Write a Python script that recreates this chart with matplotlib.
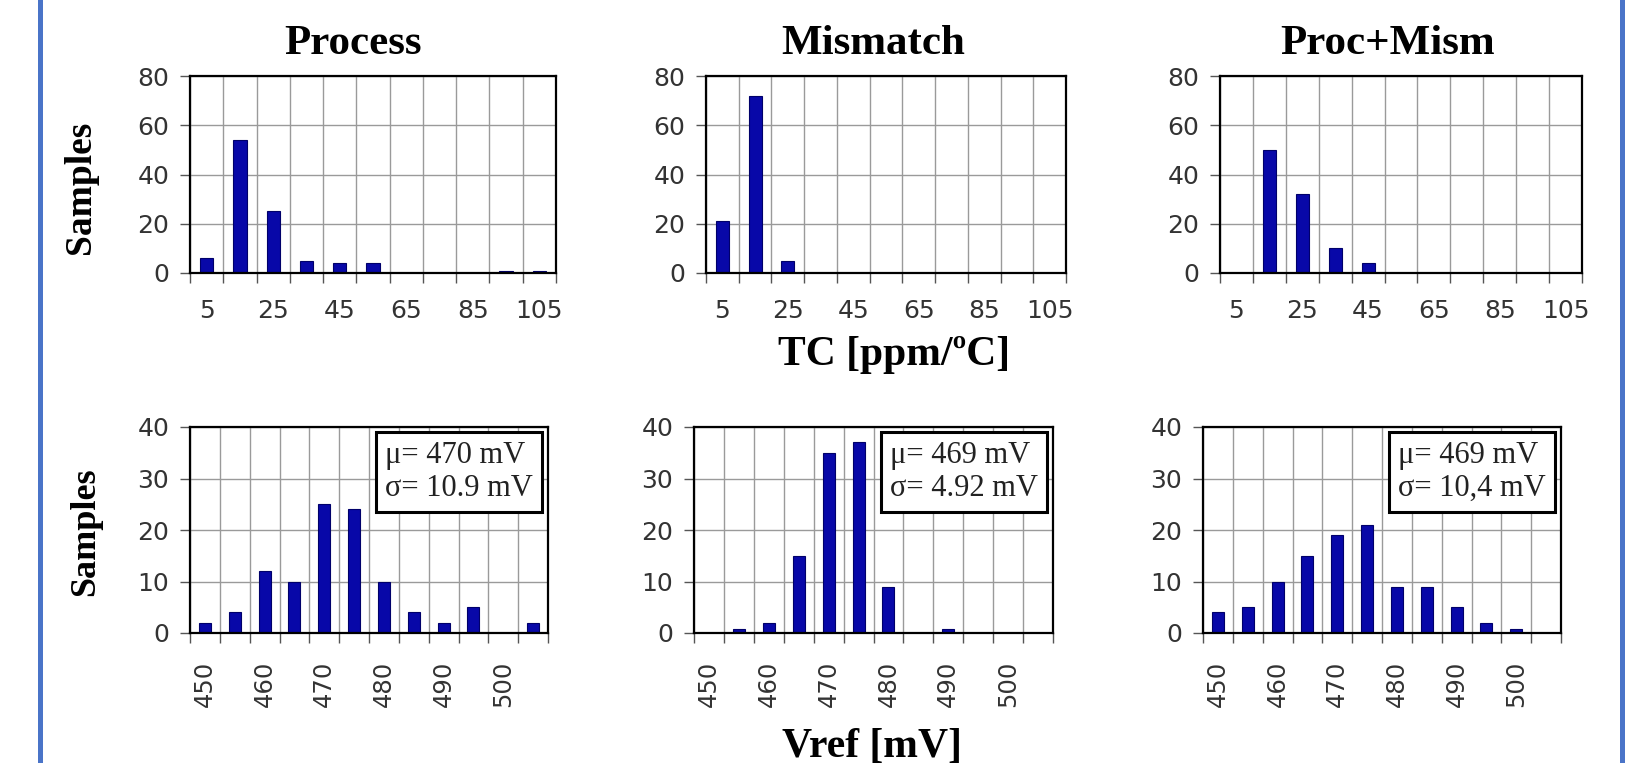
import numpy as np
import matplotlib.pyplot as plt
from matplotlib.lines import Line2D

# TC histograms (ppm/ºC), bin centres
tc_bins = [5, 15, 25, 35, 45, 55, 65, 75, 85, 95, 105]
tc_process = [6, 54, 25, 5, 4, 4, 0, 0, 0, 0.7, 0.7]
tc_mismatch = [21, 72, 5, 0, 0, 0, 0, 0, 0, 0, 0]
tc_procmism = [0, 50, 32, 10, 4, 0, 0, 0, 0, 0, 0]

# Vref histograms (mV), bin centres
vref_bins = [450, 455, 460, 465, 470, 475, 480, 485, 490, 495, 500, 505]
vref_process = [2, 4, 12, 10, 25, 24, 10, 4, 2, 5, 0, 2]
vref_mismatch = [0, 0.8, 2, 15, 35, 37, 9, 0, 0.8, 0, 0, 0]
vref_procmism = [4, 5, 10, 15, 19, 21, 9, 9, 5, 2, 0.8, 0]

titles = ['Process', 'Mismatch', 'Proc+Mism']
mu = ['470', '469', '469']
sigma = ['10.9', '4.92', '10,4']

W, H = 1632, 763
fig = plt.figure(figsize=(W / 100, H / 100), dpi=100)
fig.patch.set_facecolor('white')

serif = ['Liberation Serif', 'DejaVu Serif']
bar_color = '#0808a8'


def px_axes(x0, x1, y0, y1):
    return fig.add_axes([x0 / W, (H - y1) / H, (x1 - x0) / W, (y1 - y0) / H])


def style(ax):
    ax.set_axisbelow(True)
    ax.grid(True, which='major', color='#9a9a9a', lw=1.0)
    for s in ax.spines.values():
        s.set_linewidth(1.6)
        s.set_color('black')
    ax.tick_params(which='major', direction='out', length=7, width=1.0,
                   color='#555555', labelbottom=False)
    ax.tick_params(axis='y', which='major', labelsize=18, labelcolor='#333333', pad=8)
    ax.tick_params(which='minor', length=0, labelsize=18, labelcolor='#333333')


top_pos = [(190, 556), (706, 1066), (1220, 1582)]
bot_pos = [(190, 548), (694, 1053), (1203, 1561)]
title_x = [0.445, 0.464, 0.464]
tc_data = [tc_process, tc_mismatch, tc_procmism]
vref_data = [vref_process, vref_mismatch, vref_procmism]

for i in range(3):
    # top row: TC
    ax = px_axes(top_pos[i][0], top_pos[i][1], 76, 273)
    ax.bar(tc_bins, tc_data[i], width=4, color=bar_color, edgecolor='#00006a', lw=0.8)
    ax.set_xlim(0, 110)
    ax.set_ylim(0, 80)
    ax.set_xticks(np.arange(0, 111, 10))
    ax.set_xticks(tc_bins[::2], minor=True)
    ax.set_xticklabels([str(v) for v in tc_bins[::2]], minor=True)
    ax.set_yticks([0, 20, 40, 60, 80])
    style(ax)
    ax.tick_params(axis='x', which='minor', pad=19)
    ax.set_title(titles[i], fontsize=31, fontweight='bold', family=serif,
                 x=title_x[i], pad=16)

    # bottom row: Vref
    ax = px_axes(bot_pos[i][0], bot_pos[i][1], 427, 633)
    ax.bar(vref_bins, vref_data[i], width=2, color=bar_color, edgecolor='#00006a', lw=0.8)
    ax.set_xlim(447.5, 507.5)
    ax.set_ylim(0, 40)
    ax.set_xticks(np.arange(447.5, 508, 5))
    ax.set_xticks(vref_bins[::2], minor=True)
    ax.set_xticklabels([str(v) for v in vref_bins[::2]], minor=True, rotation=90)
    ax.set_yticks([0, 10, 20, 30, 40])
    style(ax)
    ax.tick_params(axis='x', which='minor', pad=20, labelsize=17.5)
    ax.text(0.958, 0.93, '\u03bc= %s mV\n\u03c3= %s mV' % (mu[i], sigma[i]),
            transform=ax.transAxes, ha='right', va='top', multialignment='left',
            fontsize=22, family=serif, color='#222222', linespacing=1.15,
            bbox=dict(boxstyle='square,pad=0.3', fc='white', ec='black', lw=2.2))

fig.text(80 / W, 1 - 187 / H, 'Samples', rotation=90, ha='center', va='center',
         fontsize=27, fontweight='bold', family=serif)
fig.text(86 / W, 1 - 532 / H, 'Samples', rotation=90, ha='center', va='center',
         fontsize=26, fontweight='bold', family=serif)
fig.text(894 / W, 1 - 355 / H, 'TC [ppm/\u00baC]', ha='center', va='center',
         fontsize=30, fontweight='bold', family=serif)
fig.text(872 / W, 1 - 728 / H, 'Vref [mV]', ha='center', va='top',
         fontsize=30, fontweight='bold', family=serif)

# blue frame lines at the sides
fig.add_artist(Line2D([40 / W, 40 / W], [0, 1], color='#4a74c8', lw=3.6))
fig.add_artist(Line2D([1622 / W, 1622 / W], [0, 1], color='#4a74c8', lw=3.6))

fig.savefig('out.png', dpi=100, facecolor='white')
